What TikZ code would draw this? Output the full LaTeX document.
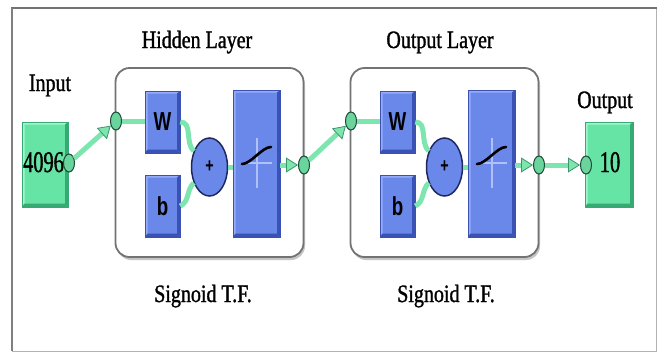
\documentclass[tikz,border=0pt]{standalone}
\usepackage{fontspec}
\usetikzlibrary{shapes.geometric,arrows.meta,shadows}
\newfontfamily\lblfont[FakeStretch=0.8,FakeBold=1.2]{Liberation Serif}
\newfontfamily\numfont[FakeStretch=0.68,FakeBold=1.2]{Liberation Serif}
\newfontfamily\wbfont[FakeStretch=0.72]{Liberation Sans Bold}
\definecolor{mintf}{RGB}{102,228,166}
\definecolor{mintl}{RGB}{160,245,205}
\definecolor{mintd}{RGB}{55,170,115}
\definecolor{bluef}{RGB}{106,136,234}
\definecolor{bluel}{RGB}{150,172,248}
\definecolor{blued}{RGB}{58,82,180}
\definecolor{navy}{RGB}{30,40,95}
\definecolor{linec}{RGB}{125,230,175}
\definecolor{tipe}{RGB}{60,150,105}
\definecolor{portf}{RGB}{105,212,155}
\definecolor{porte}{RGB}{30,75,55}
\definecolor{crossc}{RGB}{175,192,250}
\tikzset{
  bevel/.style n args={3}{fill=#1, draw=#3, line width=0.5pt, inner sep=0pt,
    path picture={
      \fill[#2] (path picture bounding box.north west) -- (path picture bounding box.north east)
        -- ([shift={(-3pt,-2.5pt)}]path picture bounding box.north east)
        -- ([shift={(2.5pt,-2.5pt)}]path picture bounding box.north west) -- cycle;
      \fill[#2] (path picture bounding box.north west) -- ([shift={(2.5pt,-2.5pt)}]path picture bounding box.north west)
        -- ([shift={(2.5pt,3.5pt)}]path picture bounding box.south west)
        -- (path picture bounding box.south west) -- cycle;
      \fill[#3] (path picture bounding box.north east) -- (path picture bounding box.south east)
        -- ([shift={(-3pt,3.5pt)}]path picture bounding box.south east)
        -- ([shift={(-3pt,-2.5pt)}]path picture bounding box.north east) -- cycle;
      \fill[#3] (path picture bounding box.south west) -- (path picture bounding box.south east)
        -- ([shift={(-3pt,3.5pt)}]path picture bounding box.south east)
        -- ([shift={(2.5pt,3.5pt)}]path picture bounding box.south west) -- cycle;
    }},
}
\begin{document}
\begin{tikzpicture}[x=1pt,y=-1pt,
  lbl/.style={font=\lblfont\fontsize{25}{25}\selectfont, inner sep=0pt, anchor=base},
  num/.style={font=\numfont\fontsize{30}{30}\selectfont, inner sep=0pt, anchor=base},
  greenbox/.style={rectangle, bevel={mintf}{mintl}{mintd}},
  bluebox/.style={rectangle, bevel={bluef}{bluel}{blued}, font=\wbfont\fontsize{26}{26}\selectfont},
  port/.style={ellipse, minimum width=11pt, minimum height=18pt, inner sep=0pt,
    fill=portf, draw=porte, line width=1pt},
  sumnode/.style={ellipse, minimum width=36pt, minimum height=58pt, inner sep=0pt,
    fill=bluef, draw=navy, line width=1.5pt, font=\wbfont\fontsize{20}{20}\selectfont},
  layerbox/.style={rectangle, rounded corners=14pt, draw=black!55, line width=1.8pt, fill=white,
    drop shadow={shadow xshift=1.5pt, shadow yshift=-3pt, fill=black!45}},
  conn/.style={draw=linec, line width=5pt},
  tip/.style={-{Triangle[length=12pt,width=15pt,line width=0.8pt,color=tipe,fill=linec]}},
]
\useasboundingbox (0,0) rectangle (661,354);
\fill[white] (0,0) rectangle (661,354);
% outer frame
\draw[black!30, line width=1pt] (12,8) rectangle (656,351);
\draw[black!55, line width=2.5pt] (11,8) -- (657,8);
\draw[black!50, line width=1.8pt] (12,8) -- (12,351);

% input and output blocks
\node[greenbox, minimum width=46pt, minimum height=85pt] (inp) at (45,164.5) {};
\node[lbl] (inlbl) at (50,91) {Input};
\node[num] (inval) at (43.5,172) {4096};
\node[port] (inport) at (69,163) {};

\node[greenbox, minimum width=48pt, minimum height=85pt] (outb) at (609,164.5) {};
\node[lbl] (outlbl) at (605,108) {Output};
\node[num] (outval) at (610,172) {10};
\node[port] (outport) at (586,165) {};

% the two layers
\foreach \L/\dx/\tx/\title in {H/0/197/Hidden Layer, O/235/440/Output Layer} {
  \node[layerbox, minimum width=188pt, minimum height=189pt] (\L box) at (209.5+\dx,162.5) {};
  \node[lbl] (\L title) at (\tx,48) {\title};
  \node[lbl] (\L caption) at (\tx+6,302) {Signoid T.F.};
  \node[bluebox, minimum width=35pt, minimum height=62pt] (\L W) at (162.5+\dx,122) {W};
  \node[bluebox, minimum width=35pt, minimum height=62pt] (\L b) at (162.5+\dx,206) {b};
  \node[sumnode] (\L sum) at (209.5+\dx,167) {+};
  \node[bluebox, minimum width=47pt, minimum height=147pt] (\L f) at (256.5+\dx,163.5) {};
  % transfer function glyph
  \draw[crossc, line width=1.5pt] (257+\dx,138) -- (257+\dx,188);
  \draw[crossc, line width=1.5pt] (247+\dx,163) -- (272+\dx,163);
  \draw[black, line width=2.6pt, line cap=round]
    (242+\dx,164) .. controls (251+\dx,164) and (262+\dx,147) .. (271+\dx,147);
  \node[port] (\L in) at (116+\dx,121) {};
  \node[port] (\L out) at (304+\dx,165) {};
  % connections inside the layer
  \draw[conn] (\L in) -- (\L W.west |- \L in);
  \draw[conn] (\L W.east) to[out=0,in=135] (\L sum);
  \draw[conn] (\L b.east) to[out=25,in=-135] (\L sum);
  \draw[conn] (\L sum.east) -- (\L f.west |- \L sum.east);
  \draw[conn,tip] (\L f.east |- \L out) -- (\L out);
}

% connections between blocks
\draw[conn,tip] (inport) -- (Hin);
\draw[conn,tip] (Hout) -- (Oin);
\draw[conn,tip] (Oout) -- (outport);
\end{tikzpicture}
\end{document}
